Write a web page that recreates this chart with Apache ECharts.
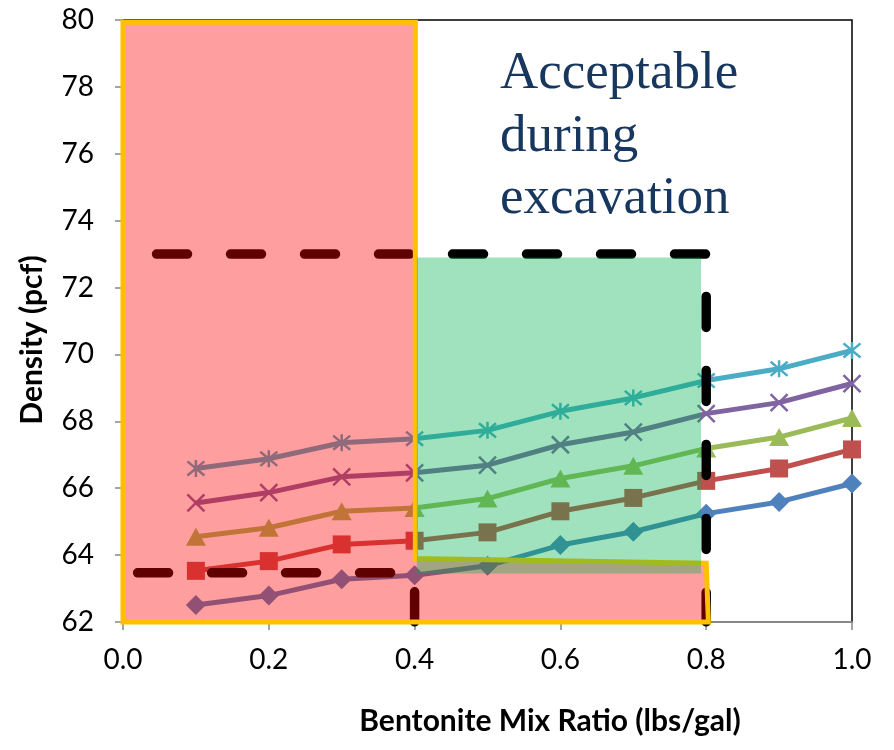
<!DOCTYPE html>
<html>
<head>
<meta charset="utf-8">
<script src="https://cdn.jsdelivr.net/npm/echarts@6/dist/echarts.min.js"></script>
<style>
html,body{margin:0;padding:0;background:#fff;}
#chart{width:894px;height:750px;}
</style>
</head>
<body>
<div id="chart"></div>
<script>
// ---- data ----
const xValues = [0.1, 0.2, 0.3, 0.4, 0.5, 0.6, 0.7, 0.8, 0.9, 1.0];
const seriesNames = ['Mix 1', 'Mix 2', 'Mix 3', 'Mix 4', 'Mix 5'];
const mix1 = [62.51, 62.79, 63.28, 63.40, 63.68, 64.30, 64.70, 65.24, 65.59, 66.14];
const mix2 = [63.53, 63.82, 64.32, 64.43, 64.68, 65.31, 65.71, 66.22, 66.59, 67.16];
const mix3 = [64.55, 64.82, 65.31, 65.41, 65.69, 66.29, 66.67, 67.19, 67.53, 68.10];
const mix4 = [65.56, 65.87, 66.34, 66.46, 66.69, 67.30, 67.68, 68.23, 68.56, 69.13];
const mix5 = [66.59, 66.88, 67.36, 67.48, 67.73, 68.30, 68.70, 69.22, 69.57, 70.12];
const xTicks = [0.0, 0.2, 0.4, 0.6, 0.8, 1.0];
const yTicks = [62, 64, 66, 68, 70, 72, 74, 76, 78, 80];

// annotation shapes (data coordinates)
const redZoneX = [0, 0.401, 0.401, 0.8, 0.803, 0];
const redZoneY = [79.93, 79.93, 63.9, 63.76, 62.0, 62.0];
const greenZoneX = [0.403, 0.793, 0.793, 0.403];
const greenZoneY = [72.9, 72.9, 63.45, 63.45];
const upperLimitX = [0.046, 0.8, 0.8];
const upperLimitY = [73, 73, 62];
const lowerLimitX = [0.02, 0.4, 0.4];
const lowerLimitY = [63.47, 63.47, 62];
const annotationText = 'Acceptable\nduring\nexcavation';

// ---- chart ----
const colors = ['#4F81BD', '#C0504D', '#9BBB59', '#8064A2', '#4BACC6'];
const symbols = ['diamond', 'rect', 'triangle',
  'path://M0,0L10,10M10,0L0,10',
  'path://M0,0L10,10M10,0L0,10M5,-1L5,11'];
const symbolSizes = [20, 18, [20, 18], 17, 17];
const allSeries = [mix1, mix2, mix3, mix4, mix5];
const tickFont = 'Lato, "Liberation Sans", sans-serif';

const chart = echarts.init(document.getElementById('chart'), null, {renderer: 'canvas'});

const dataSeries = allSeries.map((vals, i) => {
  const isStroke = i >= 3;
  return {
    name: seriesNames[i],
    type: 'line',
    z: 2,
    data: xValues.map((x, j) => [x, vals[j]]),
    symbol: symbols[i],
    symbolSize: symbolSizes[i],
    showAllSymbol: true,
    lineStyle: {color: colors[i], width: 5},
    itemStyle: {
      color: colors[i],
      borderColor: colors[i],
      borderWidth: isStroke ? 2.5 : 0
    },
    emphasis: {disabled: true},
    animation: false
  };
});

function limitLine(xs, ys) {
  return {
    type: 'line',
    z: 3,
    data: xs.map((x, i) => [x, ys[i]]),
    symbol: 'none',
    lineStyle: {color: '#000', width: 9.5, type: [31, 43], cap: 'round', join: 'miter'},
    emphasis: {disabled: true},
    silent: true,
    animation: false
  };
}

function zone(xs, ys, fill, stroke, z) {
  return {
    type: 'custom',
    z: z,
    clip: false,
    silent: true,
    data: [[xs[0], ys[0]]],
    renderItem: function (params, api) {
      if (params.dataIndex !== 0) return;
      const pts = xs.map((x, i) => api.coord([x, ys[i]]));
      return {
        type: 'polygon',
        shape: {points: pts},
        style: {fill: fill, stroke: stroke, lineWidth: stroke ? 5 : 0}
      };
    },
    animation: false
  };
}

const option = {
  animation: false,
  grid: {
    left: 123, top: 20, right: 42, bottom: 128,
    show: true, borderColor: '#000', borderWidth: 1.5, backgroundColor: 'transparent'
  },
  xAxis: {
    type: 'value',
    min: xTicks[0], max: xTicks[xTicks.length - 1], interval: 0.2,
    axisLine: {show: true, onZero: false, lineStyle: {color: '#868686', width: 2}},
    axisTick: {show: true, inside: false, length: 8, lineStyle: {color: '#868686', width: 1.5}},
    splitLine: {show: false},
    axisLabel: {
      margin: 24, fontFamily: tickFont, fontSize: 28, color: '#000',
      formatter: v => v.toFixed(1)
    }
  },
  yAxis: {
    type: 'value',
    min: yTicks[0], max: yTicks[yTicks.length - 1], interval: 2,
    axisLine: {show: true, onZero: false, lineStyle: {color: '#868686', width: 2}},
    axisTick: {show: true, inside: false, length: 8, lineStyle: {color: '#868686', width: 1.5}},
    splitLine: {show: false},
    axisLabel: {margin: 29, fontFamily: tickFont, fontSize: 28, color: '#000'}
  },
  graphic: [
    {
      type: 'text', left: 500, top: 43, z: 100,
      style: {
        text: annotationText, fill: '#17375E',
        font: '53px "Liberation Serif", "Times New Roman", serif',
        lineHeight: 62.5
      }
    },
    {
      type: 'text', x: 550, y: 721, z: 100,
      style: {
        text: 'Bentonite Mix Ratio (lbs/gal)', fill: '#000',
        font: 'bold 30px Lato, "Liberation Sans", sans-serif',
        align: 'center', verticalAlign: 'middle'
      }
    },
    {
      type: 'text', x: 32, y: 340, rotation: Math.PI / 2, z: 100,
      style: {
        text: 'Density (pcf)', fill: '#000',
        font: 'bold 30px Lato, "Liberation Sans", sans-serif',
        align: 'center', verticalAlign: 'middle'
      }
    }
  ],
  series: dataSeries.concat([
    limitLine(upperLimitX, upperLimitY),
    limitLine(lowerLimitX, lowerLimitY),
    zone(redZoneX, redZoneY, 'rgba(255,0,0,0.38)', '#FFC000', 4),
    zone(greenZoneX, greenZoneY, 'rgba(0,176,80,0.37)', null, 5)
  ])
};
chart.setOption(option);
</script>
</body>
</html>
